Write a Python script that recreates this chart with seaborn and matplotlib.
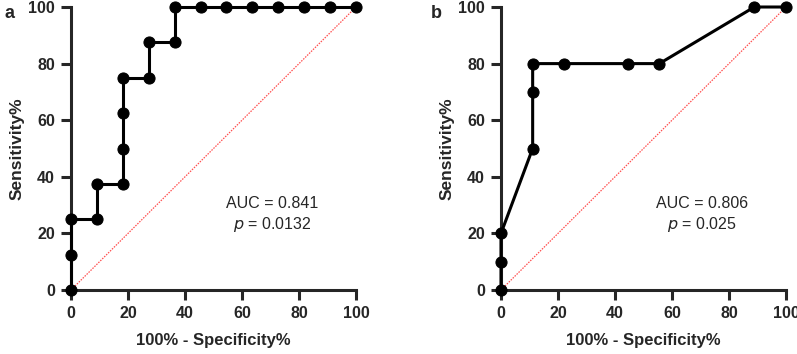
import pandas as pd
import matplotlib.pyplot as plt
import seaborn as sns

# ROC points
fpr_a = [0, 0, 0, 9.09, 9.09, 18.18, 18.18, 18.18, 18.18, 27.27, 27.27, 36.36, 36.36,
         45.45, 54.55, 63.64, 72.73, 81.82, 90.91, 100]
tpr_a = [0, 12.5, 25, 25, 37.5, 37.5, 50, 62.5, 75, 75, 87.5, 87.5, 100,
         100, 100, 100, 100, 100, 100, 100]

fpr_b = [0, 0, 0, 11.11, 11.11, 11.11, 22.22, 44.44, 55.56, 88.89, 100]
tpr_b = [0, 10, 20, 50, 70, 80, 80, 80, 80, 100, 100]

auc_text = ['AUC = 0.841', 'AUC = 0.806']
p_text = ['0.0132', '0.025']
panel_labels = ['a', 'b']

sns.set_style('ticks')
plt.rcParams['font.family'] = ['Liberation Sans', 'DejaVu Sans']

fig = plt.figure(figsize=(7.97, 3.54), dpi=100)
axes = [fig.add_axes([0.0891, 0.1808, 0.3576, 0.7994]),
        fig.add_axes([0.6286, 0.1808, 0.3576, 0.7994])]

for i, (ax, fx, ty) in enumerate(zip(axes, [fpr_a, fpr_b], [tpr_a, tpr_b])):
    df = pd.DataFrame({'fpr': fx, 'tpr': ty})
    ax.plot([0, 100], [0, 100], color='#ff4d4d', lw=0.9, ls=(0, (1.2, 1.0)), zorder=1)
    sns.lineplot(data=df, x='fpr', y='tpr', ax=ax, sort=False, estimator=None,
                 color='black', lw=2.2, marker='o', markersize=8,
                 markeredgecolor='black', clip_on=False, zorder=3)
    ax.set_xlim(0, 100)
    ax.set_ylim(0, 100)
    ax.set_xticks(range(0, 101, 20))
    ax.set_yticks(range(0, 101, 20))
    for s in ['top', 'right']:
        ax.spines[s].set_visible(False)
    for s in ['left', 'bottom']:
        ax.spines[s].set_linewidth(2.2)
    ax.tick_params(width=2.2, length=7.5, labelsize=11.5, pad=4)
    for lab in ax.get_xticklabels() + ax.get_yticklabels():
        lab.set_fontweight('bold')
    ax.set_xlabel('100% - Specificity%', fontsize=12, fontweight='bold', labelpad=9)
    ax.set_ylabel('Sensitivity%', fontsize=12.5, fontweight='bold', labelpad=3)
    ax.text(70.5, 30.5, auc_text[i], fontsize=11.5, ha='center', va='center')
    ax.text(70.5, 23, r'$\it{p}$ = ' + p_text[i], fontsize=11.5, ha='center', va='center')

fig.text(0.006, 0.985, panel_labels[0], fontsize=13, fontweight='bold', va='top')
fig.text(0.541, 0.985, panel_labels[1], fontsize=13, fontweight='bold', va='top')

fig.savefig('out.png', dpi=100)
